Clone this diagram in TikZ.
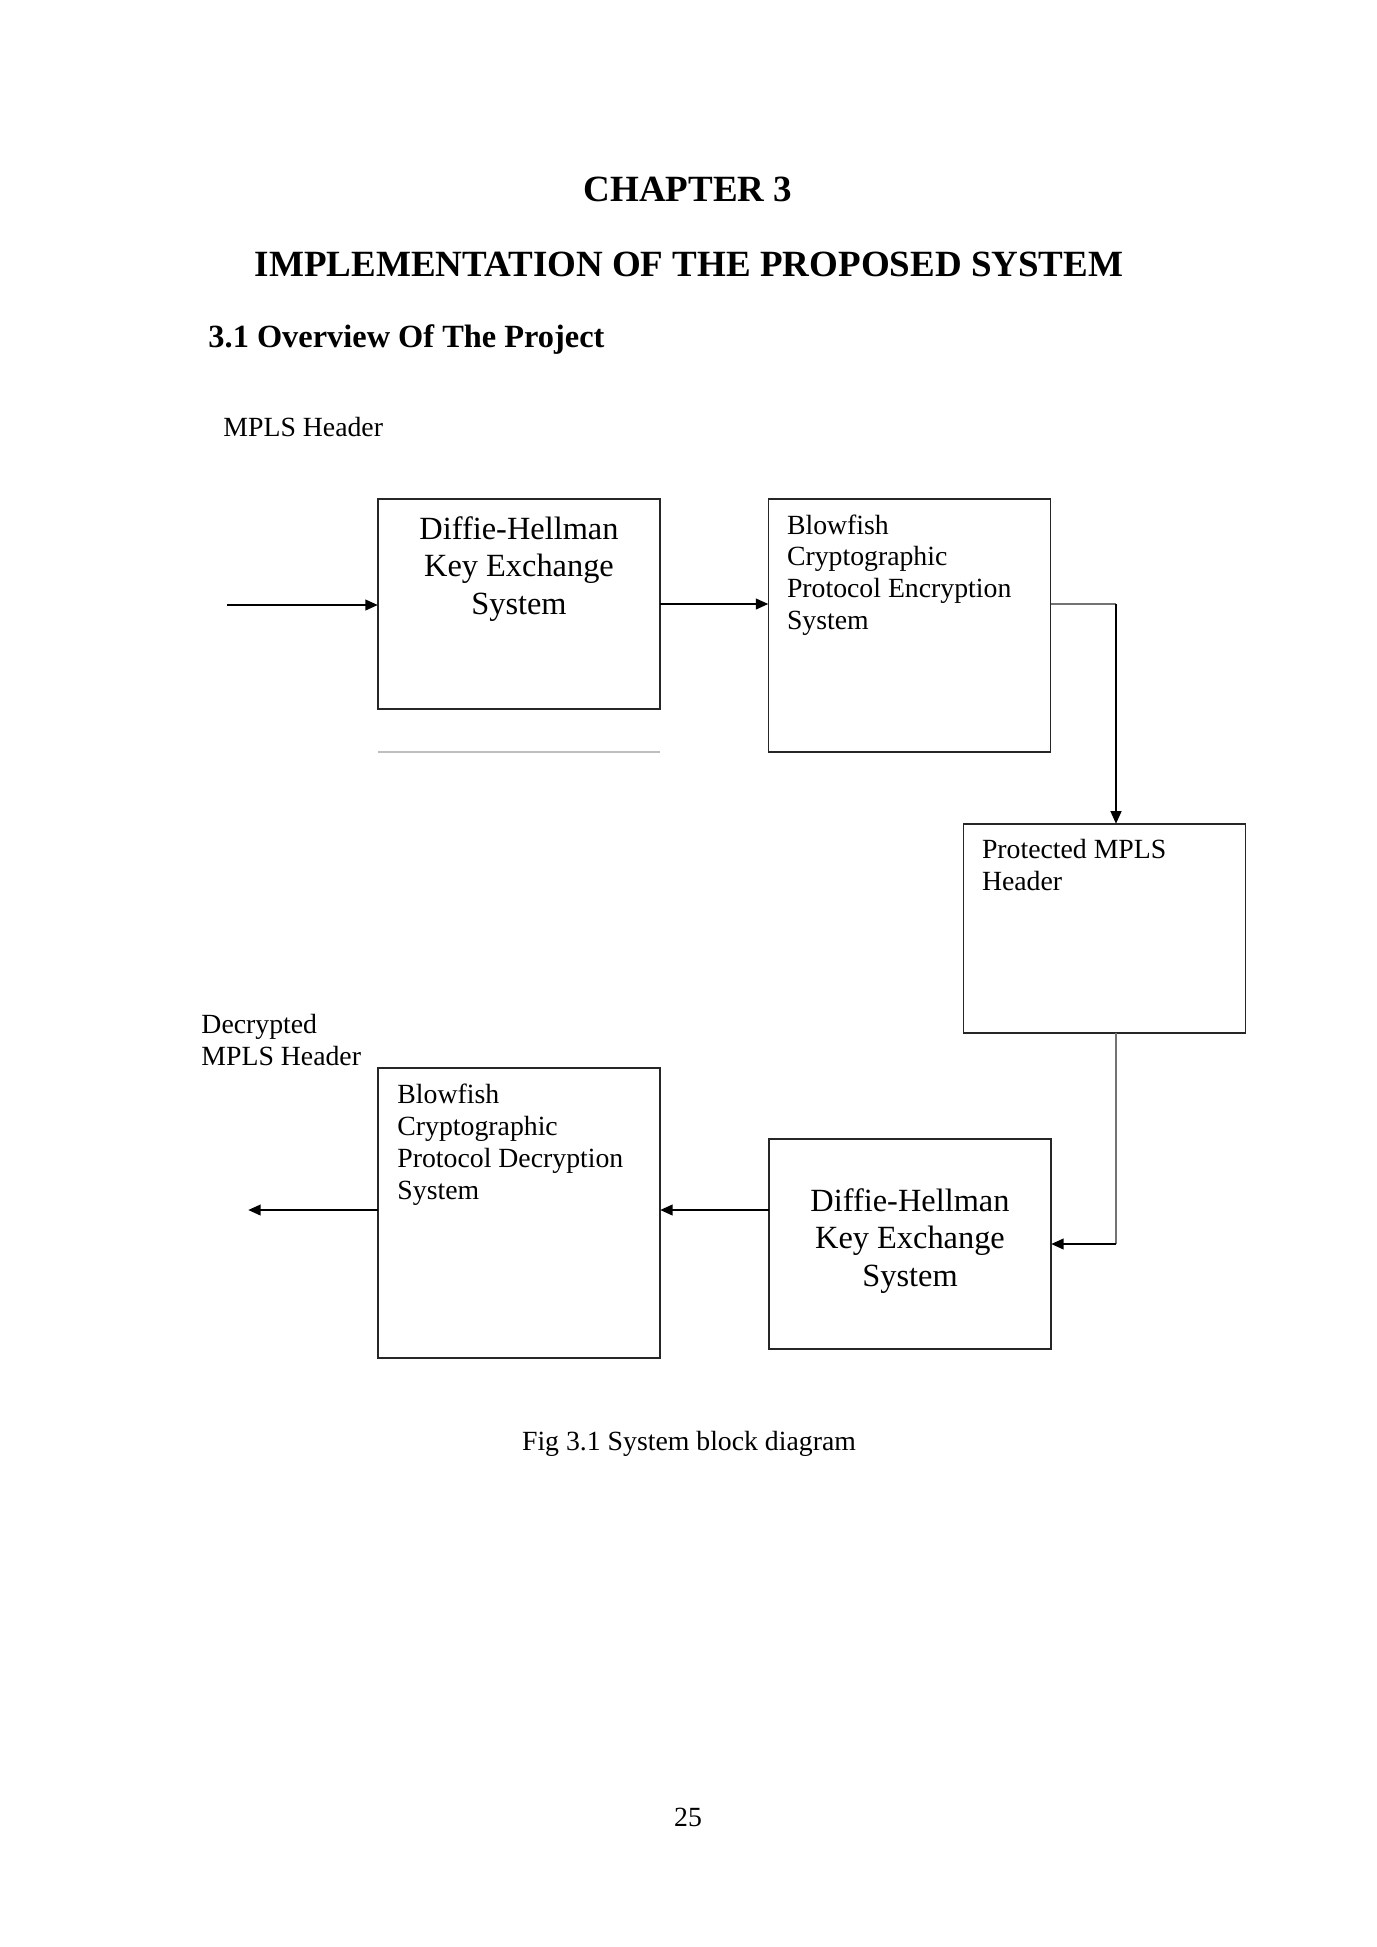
\documentclass[tikz,border=0pt]{standalone}
\usepackage{fontspec}
\setmainfont{Liberation Serif}
\usetikzlibrary{arrows.meta,calc}
\begin{document}
\begin{tikzpicture}
      [x=0.4323pt,y=-0.4323pt
      ,blk/.style={draw=black!85,line width=0.6pt,minimum width=121.9pt,inner sep=0pt,outer sep=0pt}
      ,arr/.style={line width=1.2pt,-{Triangle[length=5.5pt,width=4.5pt]}}
      ,thinln/.style={color=black!55,line width=0.55pt}
      ,shade/.style={color=black!25,line width=0.7pt}
      ,toptxt/.style={anchor=north,inner sep=0pt,align=center,font=\fontsize{14}{16.2}\selectfont}
      ,lefttxt/.style={anchor=north west,inner sep=0pt,align=left,font=\fontsize{12}{13.8}\selectfont}
      ,txt/.style={inner sep=0pt,font=\fontsize{12}{13.8}\selectfont}
      ]
        \useasboundingbox (0,0) rectangle (1377,1947);
        % headings
        \node[inner sep=0pt,anchor=base,font=\fontsize{16}{19}\selectfont\bfseries] (chap) at (688,201) {CHAPTER 3};
        \node[inner sep=0pt,anchor=base,font=\fontsize{16}{19}\selectfont\bfseries] (title) at (689,276) {IMPLEMENTATION OF THE PROPOSED SYSTEM};
        \node[inner sep=0pt,anchor=base west,font=\fontsize{14}{16.2}\selectfont\bfseries] (sect) at (208,347) {3.1 Overview Of The Project};
        \node[txt,anchor=base west] (mplsin) at (223,436) {MPLS Header};
        \node[txt,anchor=base west,align=left] (mplsout) at (201,1065) {Decrypted\\MPLS Header};
        % blocks
        \node[blk,minimum height=90.8pt,label={[toptxt,yshift=-7.3pt]north:{Diffie-Hellman\\Key Exchange\\System}}] (dhenc) at (519,604) {};
        \node[blk,minimum height=109.4pt,label={[lefttxt,xshift=7.8pt,yshift=-6.5pt]north west:{Blowfish\\Cryptographic\\Protocol Encryption\\System}}] (bfenc) at (909.5,625.5) {};
        \node[blk,minimum height=90.4pt,label={[lefttxt,xshift=7.8pt,yshift=-6.5pt]north west:{Protected MPLS\\Header}}] (prot) at (1104.5,928.5) {};
        \node[blk,minimum height=90.8pt,label={[toptxt,yshift=-21.1pt]north:{Diffie-Hellman\\Key Exchange\\System}}] (dhdec) at (910,1244) {};
        \node[blk,minimum height=125.4pt,label={[lefttxt,xshift=8.2pt,yshift=-6.9pt]north west:{Blowfish\\Cryptographic\\Protocol Decryption\\System}}] (bfdec) at (519,1213) {};
        \draw[shade] ([yshift=-18.6pt]dhenc.south west) -- ([yshift=-18.6pt]dhenc.south east);
        % connectors
        \coordinate (in) at (227,605);
        \coordinate (bend1) at (1116,604);
        \coordinate (bend2) at (1116,1244);
        \coordinate (out) at (248,1210);
        \draw[arr] (in) -- (in -| dhenc.west);
        \draw[arr] (dhenc.east) -- (dhenc.east -| bfenc.west);
        \draw[thinln] (bend1 -| bfenc.east) -- (bend1);
        \draw[arr] (bend1) -- (bend1 |- prot.north);
        \draw[thinln] (bend1 |- prot.south) -- (bend2);
        \draw[arr] (bend2) -- (dhdec.east);
        \draw[arr] (out -| dhdec.west) -- (out -| bfdec.east);
        \draw[arr] (out -| bfdec.west) -- (out);
        % caption
        \node[txt,anchor=base] (cap) at (689,1450) {Fig 3.1 System block diagram};
        \node[txt,anchor=base] (page) at (688,1826) {25};
      \end{tikzpicture}
\end{document}
